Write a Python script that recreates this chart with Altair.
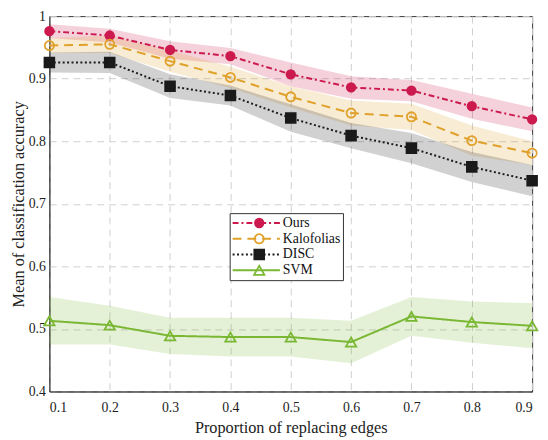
import altair as alt
import pandas as pd

x_vals = [0.1, 0.2, 0.3, 0.4, 0.5, 0.6, 0.7, 0.8, 0.9]
series_names = ["Ours", "Kalofolias", "DISC", "SVM"]

ours_mean = [0.976, 0.969, 0.946, 0.936, 0.907, 0.886, 0.881, 0.856, 0.835]
ours_std = [0.011, 0.011, 0.014, 0.013, 0.019, 0.018, 0.017, 0.020, 0.019]

kalo_mean = [0.953, 0.955, 0.928, 0.902, 0.871, 0.845, 0.839, 0.801, 0.781]
kalo_std = [0.012, 0.014, 0.017, 0.017, 0.017, 0.020, 0.021, 0.024, 0.019]

disc_mean = [0.926, 0.926, 0.888, 0.873, 0.837, 0.809, 0.789, 0.759, 0.737]
disc_std = [0.016, 0.017, 0.019, 0.016, 0.022, 0.020, 0.024, 0.024, 0.025]

svm_mean = [0.513, 0.506, 0.489, 0.487, 0.487, 0.479, 0.520, 0.511, 0.505]
svm_std = [0.038, 0.031, 0.029, 0.031, 0.031, 0.034, 0.031, 0.033, 0.036]

line_colors = ["#cc1a4e", "#e0a12a", "#1a1a1a", "#7ab733"]
marker_fills = ["#cc1a4e", "transparent", "#1a1a1a", "transparent"]
marker_shapes = ["circle", "circle", "square", "triangle-up"]
marker_sizes = [75, 110, 55, 120]
dashes = [[6, 3, 2, 3], [9, 6], [2, 2.5], [1, 0]]

y_ticks = [0.4, 0.5, 0.6, 0.7, 0.8, 0.9, 1.0]

means = [ours_mean, kalo_mean, disc_mean, svm_mean]
stds = [ours_std, kalo_std, disc_std, svm_std]

rows = []
for order, (name, mean, std) in enumerate(zip(series_names, means, stds)):
    for xv, m, s in zip(x_vals, mean, std):
        rows.append({"x": xv, "series": name, "series_m": name, "order": order,
                     "y": m, "lo": m - s, "hi": m + s})
df = pd.DataFrame(rows)

FONT = "Liberation Serif, Times New Roman, Times, serif"

x_enc = alt.X("x:Q",
              scale=alt.Scale(domain=[0.1, 0.9], nice=False, zero=False),
              axis=alt.Axis(values=x_vals, format=".1f", title="Proportion of replacing edges",
                            labelPadding=9, titlePadding=6))
y_scale = alt.Scale(domain=[0.4, 1.0], nice=False, zero=False)
y_axis = alt.Axis(values=y_ticks, format=".1~f", title="Mean of classification accuracy",
                  labelPadding=4, titlePadding=2)

color_scale = alt.Scale(domain=series_names, range=line_colors)

line_legend = alt.Legend(
    orient="none", legendX=183, legendY=200, title=None,
    symbolType="stroke", symbolSize=2304, symbolStrokeWidth=2, symbolOpacity=1,
    clipHeight=16, rowPadding=0, padding=2, labelOffset=2,
    labelFont=FONT, labelFontSize=14, labelColor="#111",
    strokeColor="#333", fillColor="white", zindex=1,
)

base = alt.Chart(df)

bands = base.mark_area(opacity=0.2, interpolate="linear").encode(
    x=x_enc,
    y=alt.Y("lo:Q", scale=y_scale, axis=y_axis),
    y2="hi:Q",
    color=alt.Color("series:N", scale=color_scale, legend=line_legend),
    detail="series:N",
)

lines = base.mark_line(strokeWidth=2).encode(
    x=x_enc,
    y=alt.Y("y:Q", scale=y_scale, axis=y_axis),
    color=alt.Color("series:N", scale=color_scale, legend=line_legend),
    strokeDash=alt.StrokeDash("series:N", scale=alt.Scale(domain=series_names, range=dashes),
                              legend=line_legend),
)

marker_legend = alt.Legend(
    orient="none", legendX=206, legendY=202, title=None,
    symbolStrokeWidth=1.8, symbolOpacity=1,
    clipHeight=16, rowPadding=0, padding=0,
    labelFont=FONT, labelFontSize=14, labelExpr="''", zindex=2,
)

msort = alt.EncodingSortField(field="order", op="min")
points = base.mark_point(strokeWidth=1.8, opacity=1).encode(
    x=x_enc,
    y=alt.Y("y:Q", scale=y_scale, axis=y_axis),
    stroke=alt.Stroke("series_m:N", sort=msort, scale=alt.Scale(range=line_colors),
                      legend=marker_legend),
    fill=alt.Fill("series_m:N", sort=msort, scale=alt.Scale(range=marker_fills),
                  legend=marker_legend),
    shape=alt.Shape("series_m:N", sort=msort, scale=alt.Scale(range=marker_shapes),
                    legend=marker_legend),
    size=alt.Size("series_m:N", sort=msort, scale=alt.Scale(range=marker_sizes),
                  legend=marker_legend),
)

chart = alt.layer(bands, lines, points).properties(
    width=490, height=381,
    autosize=alt.AutoSizeParams(type="none"),
    padding={"left": 42, "top": 5, "right": 8, "bottom": 46},
).configure_view(
    stroke="#333", strokeWidth=1,
).configure_axis(
    labelFont=FONT, labelFontSize=14, labelColor="#222",
    titleFont=FONT, titleFontSize=16.5, titleFontWeight="normal", titleColor="#222",
    gridColor="#cfcfcf", gridDash=[7, 5], gridWidth=1,
    domainColor="#333", ticks=False,
)

chart.save("out.html", embed_options={"renderer": "svg", "actions": False})
